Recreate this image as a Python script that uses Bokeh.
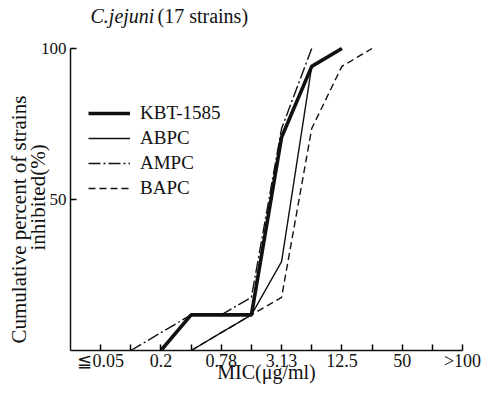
import math
from bokeh.plotting import figure
from bokeh.models import FixedTicker, Range1d, Label, Legend, LegendItem, Title
from bokeh.embed import file_html
from bokeh.resources import INLINE

# MIC dilution steps (x categories, in order)
mic_labels = ["≦0.05", "0.1", "0.2", "0.39", "0.78", "1.56", "3.13",
              "6.25", "12.5", "25", "50", "100", ">100"]
shown_ticks = ["≦0.05", "0.2", "0.78", "3.13", "12.5", "50", ">100"]

# cumulative percent of strains inhibited (17 strains), None = not drawn
kbt_1585 = [None, None, 0, 11.8, 11.8, 11.8, 70.6, 94.1, 100, None, None, None, None]
abpc = [None, None, None, 0, 5.9, 11.8, 29.4, 94.1, 100, None, None, None, None]
ampc = [None, 0, 5.9, 11.8, 11.8, 17.6, 73.5, 100, None, None, None, None, None]
bapc = [None, None, None, 0, 5.9, 11.8, 17.6, 73.5, 94.1, 100, None, None, None]

y_ticks = [50, 100]

SERIF = "Liberation Serif"
INK = "#111111"

p = figure(width=489, height=393, output_backend="svg", toolbar_location=None,
           x_range=Range1d(-1, 12), y_range=Range1d(0, 115.9),
           min_border_left=70, min_border_right=27, min_border_top=0,
           min_border_bottom=43)
p.outline_line_color = None
p.xgrid.visible = False
p.ygrid.visible = False
p.background_fill_color = "white"
p.border_fill_color = "white"

def xy(series):
    xs, ys = [], []
    for i, v in enumerate(series):
        if v is not None:
            xs.append(i)
            ys.append(v)
    return xs, ys

styles = [
    ("KBT-1585", kbt_1585, 3.6, "solid"),
    ("ABPC", abpc, 1.4, "solid"),
    ("AMPC", ampc, 1.4, "12 3 2 3"),
    ("BAPC", bapc, 1.4, "7 4"),
]
items = []
for name, series, lw, dash in styles:
    xs, ys = xy(series)
    r = p.line(xs, ys, line_color=INK, line_width=lw, line_dash=dash)
    items.append(LegendItem(label=name, renderers=[r]))

# x axis
ticks = list(range(len(mic_labels)))
p.xaxis.ticker = FixedTicker(ticks=ticks)
p.xaxis.major_label_overrides = {i: (lab if lab in shown_ticks else "") for i, lab in enumerate(mic_labels)}
p.xaxis.bounds = (-1, len(mic_labels) - 1)
p.xaxis.major_tick_in = 6
p.xaxis.major_tick_out = 0
p.xaxis.minor_tick_line_color = None
p.xaxis.major_label_standoff = 0
p.xaxis.major_label_text_font = SERIF
p.xaxis.major_label_text_font_size = "18px"
p.xaxis.major_label_text_color = INK
p.xaxis.axis_line_color = INK
p.xaxis.axis_line_width = 1.5
p.xaxis.major_tick_line_width = 1.5
p.xaxis.axis_label = "MIC(μg/ml)"
p.xaxis.axis_label_text_font = SERIF
p.xaxis.axis_label_text_font_size = "20px"
p.xaxis.axis_label_text_font_style = "normal"
p.xaxis.axis_label_text_color = INK
p.xaxis.axis_label_standoff = -13

# y axis
p.yaxis.ticker = FixedTicker(ticks=y_ticks)
p.yaxis.bounds = (0, 100)
p.yaxis.major_tick_in = 6
p.yaxis.major_tick_out = 0
p.yaxis.minor_tick_line_color = None
p.yaxis.major_label_standoff = 4
p.yaxis.major_label_text_font = SERIF
p.yaxis.major_label_text_font_size = "17px"
p.yaxis.major_label_text_color = INK
p.yaxis.axis_line_color = INK
p.yaxis.axis_line_width = 1.5
p.yaxis.major_tick_line_width = 1.5

# y label: two lines as titles on the left side
p.add_layout(Title(text="inhibited(%)", text_font=SERIF, text_font_size="21px",
                   text_font_style="normal", text_color=INK, align="left",
                   vertical_align="bottom", offset=100, standoff=-25), "left")
p.add_layout(Title(text="Cumulative percent of strains", text_font=SERIF,
                   text_font_size="21px", text_font_style="normal", text_color=INK,
                   align="left", vertical_align="top", offset=7, standoff=7), "left")

legend = Legend(items=items, location=(18, 151))
legend.label_text_font = SERIF
legend.label_text_font_size = "19px"
legend.label_text_color = INK
legend.glyph_width = 42
legend.glyph_height = 20
legend.label_height = 20
legend.spacing = 3
legend.padding = 0
legend.margin = 0
legend.label_standoff = 10
legend.border_line_color = None
legend.background_fill_alpha = 0
p.add_layout(legend)

# chart heading (inside the top of the frame)
p.add_layout(Label(x=20, y=335, x_units="screen", y_units="screen", text="C.jejuni",
                   text_font=SERIF, text_font_size="20px", text_font_style="italic",
                   text_color=INK, text_baseline="middle"))
p.add_layout(Label(x=87, y=335, x_units="screen", y_units="screen", text="(17  strains)",
                   text_font=SERIF, text_font_size="20px", text_color=INK,
                   text_baseline="middle"))

open("out.html", "w").write(file_html(p, INLINE))
